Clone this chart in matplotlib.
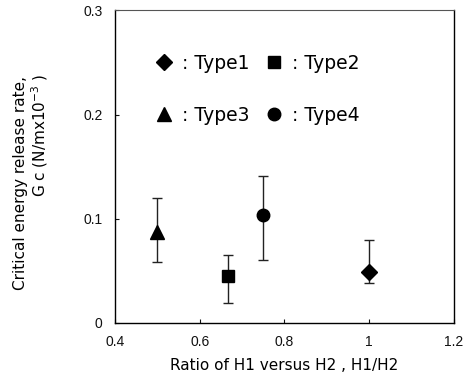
import matplotlib

matplotlib.use("Agg")
import matplotlib.pyplot as plt

plt.rcParams["font.family"] = ["Liberation Sans", "DejaVu Sans"]

# Measured points: ratio H1/H2 vs critical energy release rate Gc
types = ["Type1", "Type2", "Type3", "Type4"]
markers = ["D", "s", "^", "o"]
ratio = [1.0, 0.667, 0.5, 0.75]
gc_mean = [0.049, 0.045, 0.087, 0.104]
gc_low = [0.038, 0.019, 0.059, 0.060]
gc_high = [0.080, 0.065, 0.120, 0.141]

x_ticks = [0.4, 0.6, 0.8, 1.0, 1.2]
x_tick_labels = ["0.4", "0.6", "0.8", "1", "1.2"]
y_ticks = [0, 0.1, 0.2, 0.3]
y_tick_labels = ["0", "0.1", "0.2", "0.3"]

WIDE = "DejaVu Sans"

fig = plt.figure(figsize=(4.72, 3.79), dpi=100)
ax = fig.add_axes([0.2436, 0.1478, 0.718, 0.8245])

handles = {}
for t, m, x, y, lo, hi in zip(types, markers, ratio, gc_mean, gc_low, gc_high):
    ms = {"D": 8, "s": 8.5, "^": 9.5, "o": 9}[m]
    h = ax.errorbar(
        [x], [y], yerr=[[y - lo], [hi - y]],
        fmt=m, color="black", ms=ms, ecolor="#222222", elinewidth=1.0,
        capsize=3.5, capthick=1.0, label=": " + t,
    )
    handles[t] = h

order = ["Type1", "Type3", "Type2", "Type4"]
leg = ax.legend(
    [handles[t][0] for t in order], [": " + t for t in order],
    ncol=2, frameon=False, loc="upper left", bbox_to_anchor=(0.118, 0.861),
    prop={"family": WIDE, "size": 13.5}, handletextpad=0.45, columnspacing=0.8,
    labelspacing=1.75, handlelength=1.0, borderaxespad=0, borderpad=0,
)

ax.set_xlim(0.4, 1.2)
ax.set_ylim(0, 0.3)
ax.set_xticks(x_ticks)
ax.set_xticklabels(x_tick_labels)
ax.set_yticks(y_ticks)
ax.set_yticklabels(y_tick_labels)
ax.tick_params(direction="in", length=3, labelsize=10, pad=9, colors="#111111")

for side in ["left", "right", "bottom"]:
    ax.spines[side].set_linewidth(1.0)
ax.spines["top"].set_linestyle((0, (2, 1)))
ax.spines["top"].set_linewidth(0.8)
ax.spines["top"].set_color("#555555")

ax.set_xlabel("Ratio of H1 versus H2 , H1/H2", fontsize=11, family=WIDE,
              labelpad=6)

fig.text(0.044, 0.800, "Critical energy release rate,", rotation=90,
         ha="center", va="top", fontsize=11, family=WIDE)
fig.text(0.085, 0.805, "G c (N/mx10$^{-3}$ )", rotation=90,
         ha="center", va="top", fontsize=11, family=WIDE)

fig.savefig("out.png", dpi=100)
